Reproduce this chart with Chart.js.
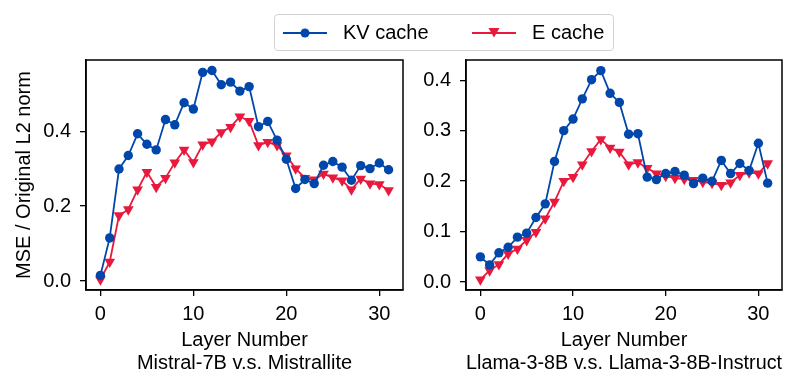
<!DOCTYPE html>
<html>
<head>
<meta charset="utf-8">
<script src="https://cdn.jsdelivr.net/npm/chart.js@4.4.0/dist/chart.umd.min.js"></script>
<style>
  html, body { margin: 0; padding: 0; background: #fff; }
  #wrap { position: relative; width: 798px; height: 389px; font-family: "Liberation Sans", Arial, sans-serif; }
  #wrap canvas { position: absolute; left: 0; top: 0; }
  #legend { position: absolute; left: 274px; top: 14px; width: 340px; height: 37px; box-sizing: border-box;
            border: 1px solid #d3d3d3; border-radius: 4px; background: #fff; font-size: 20px; color: #000; }
  #legend .item { position: absolute; top: 0; height: 35px; line-height: 35px; white-space: nowrap; }
  #legend svg { position: absolute; top: 7px; }
</style>
</head>
<body>
<div id="wrap">
  <canvas id="left-chart" width="798" height="389"></canvas>
  <canvas id="right-chart" width="798" height="389"></canvas>
  <div id="legend">
    <svg style="left:8px" width="44" height="22"><line x1="0" y1="11" x2="44" y2="11" stroke="#0047ab" stroke-width="1.8"/><circle cx="22" cy="11" r="4.5" fill="#0047ab"/></svg>
    <span class="item" style="left:68px">KV cache</span>
    <svg style="left:197px" width="44" height="22"><line x1="0" y1="11" x2="44" y2="11" stroke="#e8193c" stroke-width="1.8"/><polygon points="16.5,6 27.5,6 22,15.5" fill="#e8193c"/></svg>
    <span class="item" style="left:257px">E cache</span>
  </div>
</div>
<script>
const layers = [0, 1, 2, 3, 4, 5, 6, 7, 8, 9, 10, 11, 12, 13, 14, 15,
                16, 17, 18, 19, 20, 21, 22, 23, 24, 25, 26, 27, 28, 29, 30, 31];

// Mistral-7B v.s. Mistrallite
const mistralKV = [0.015, 0.115, 0.299, 0.335, 0.393, 0.365, 0.350, 0.431, 0.417, 0.476, 0.459, 0.557, 0.562, 0.524, 0.531, 0.507,
                   0.519, 0.412, 0.426, 0.376, 0.325, 0.247, 0.271, 0.260, 0.309, 0.319, 0.304, 0.269, 0.308, 0.300, 0.315, 0.297];
const mistralE  = [0.004, 0.051, 0.175, 0.191, 0.244, 0.291, 0.251, 0.275, 0.316, 0.350, 0.317, 0.364, 0.372, 0.397, 0.411, 0.439,
                   0.427, 0.362, 0.371, 0.362, 0.335, 0.300, 0.275, 0.271, 0.286, 0.276, 0.268, 0.244, 0.273, 0.260, 0.258, 0.242];

// Llama-3-8B v.s. Llama-3-8B-Instruct
const llamaKV = [0.050, 0.034, 0.058, 0.069, 0.089, 0.097, 0.128, 0.155, 0.239, 0.300, 0.323, 0.363, 0.401, 0.419, 0.374, 0.356,
                 0.293, 0.294, 0.208, 0.203, 0.215, 0.219, 0.212, 0.195, 0.206, 0.200, 0.241, 0.215, 0.235, 0.221, 0.275, 0.196];
const llamaE  = [0.005, 0.023, 0.035, 0.056, 0.066, 0.083, 0.099, 0.126, 0.159, 0.200, 0.208, 0.233, 0.259, 0.283, 0.266, 0.258,
                 0.233, 0.237, 0.226, 0.215, 0.210, 0.206, 0.204, 0.202, 0.198, 0.196, 0.192, 0.197, 0.212, 0.217, 0.215, 0.235];

const xTicks = [0, 10, 20, 30];
const leftYTicks = [0, 0.2, 0.4];
const rightYTicks = [0, 0.1, 0.2, 0.3, 0.4];

const FONT = '"Liberation Sans", Arial, sans-serif';
const BLUE = '#0047ab';
const RED = '#e8193c';

const frame = {
    id: 'frame',
    afterDatasetsDraw(chart) {
        const a = chart.chartArea;
        const ctx = chart.ctx;
        ctx.save();
        ctx.strokeStyle = '#000';
        ctx.lineWidth = 1.5;
        ctx.strokeRect(a.left, a.top, a.right - a.left, a.bottom - a.top);
        ctx.restore();
    }
};

function toPoints(values) {
    return layers.map((x, i) => ({ x: x, y: values[i] }));
}

function makeChart(id, kv, e, o) {
    return new Chart(document.getElementById(id).getContext('2d'), {
        type: 'line',
        data: {
            datasets: [
                {
                    label: 'KV cache',
                    data: toPoints(kv),
                    borderColor: BLUE,
                    backgroundColor: BLUE,
                    borderWidth: 1.8,
                    pointStyle: 'circle',
                    pointRadius: 4.7,
                    pointBorderWidth: 0,
                },
                {
                    label: 'E cache',
                    data: toPoints(e),
                    borderColor: RED,
                    backgroundColor: RED,
                    borderWidth: 1.8,
                    pointStyle: 'triangle',
                    rotation: 180,
                    pointRadius: 6.2,
                    pointBorderWidth: 0,
                },
            ],
        },
        options: {
            responsive: false,
            animation: false,
            devicePixelRatio: 1,
            layout: { padding: o.padding },
            plugins: { legend: { display: false }, tooltip: { enabled: false } },
            elements: { line: { tension: 0 } },
            scales: {
                x: {
                    type: 'linear',
                    min: -1.55,
                    max: 32.55,
                    afterBuildTicks: s => { s.ticks = xTicks.map(v => ({ value: v })); },
                    afterFit: s => { s.height = 99; },
                    grid: { display: true, drawOnChartArea: false, drawTicks: true, tickLength: 6, color: '#000', lineWidth: 1.3 },
                    border: { display: true, color: '#000', width: 1.5 },
                    ticks: { color: '#000', font: { size: 20, family: FONT }, padding: 6, maxRotation: 0, autoSkip: false,
                             callback: v => String(v) },
                    title: { display: true, text: ['Layer Number', o.subtitle], color: '#000',
                             font: { size: 20, family: FONT, lineHeight: 1.15 }, padding: { top: 0, bottom: 14.5 } },
                },
                y: {
                    type: 'linear',
                    min: o.yMin,
                    max: o.yMax,
                    afterBuildTicks: s => { s.ticks = o.yTicks.map(v => ({ value: v })); },
                    afterFit: s => { s.width = o.yWidth; },
                    grid: { display: true, drawOnChartArea: false, drawTicks: true, tickLength: 6, color: '#000', lineWidth: 1.3 },
                    border: { display: true, color: '#000', width: 1.5 },
                    ticks: { color: '#000', font: { size: 20, family: FONT }, padding: 9, callback: v => v.toFixed(1) },
                    title: { display: o.yTitle, text: 'MSE / Original L2 norm', color: '#000',
                             font: { size: 20, family: FONT }, padding: { top: 12, bottom: 0 } },
                },
            },
        },
        plugins: [frame],
    });
}

makeChart('left-chart', mistralKV, mistralE, {
    padding: { left: 0, top: 60, right: 395, bottom: 0 },
    yWidth: 86, yMin: -0.024, yMax: 0.59, yTicks: leftYTicks, yTitle: true,
    subtitle: 'Mistral-7B v.s. Mistrallite',
});

makeChart('right-chart', llamaKV, llamaE, {
    padding: { left: 406, top: 60, right: 16, bottom: 0 },
    yWidth: 60, yMin: -0.0157, yMax: 0.44, yTicks: rightYTicks, yTitle: false,
    subtitle: 'Llama-3-8B v.s. Llama-3-8B-Instruct',
});
</script>
</body>
</html>
